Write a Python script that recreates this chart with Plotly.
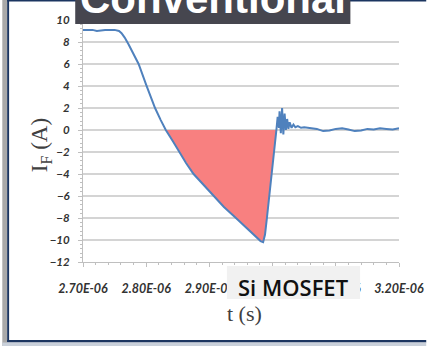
import numpy as np
import plotly.graph_objects as go

# Reverse-recovery current of the diode, time in microseconds, current in amperes
t_us = [2.700, 2.715, 2.722, 2.728, 2.735, 2.750, 2.757, 2.761, 2.766, 2.772,
        2.780, 2.788, 2.800, 2.814, 2.823, 2.831, 2.842, 2.852, 2.863, 2.875,
        2.891, 2.906, 2.923, 2.942, 2.960, 2.975, 2.981, 2.985, 2.988, 2.991,
        2.995, 2.998, 3.002, 3.006, 3.008, 3.010, 3.011, 3.013, 3.015, 3.017,
        3.019, 3.021, 3.023, 3.025, 3.027, 3.030, 3.033, 3.036, 3.040, 3.045,
        3.050, 3.060, 3.070, 3.080, 3.090, 3.100, 3.110, 3.120, 3.130, 3.140,
        3.150, 3.160, 3.170, 3.180, 3.190, 3.200]
i_f = [9.1, 9.1, 9.0, 9.05, 9.1, 9.1, 9.0, 8.8, 8.4, 7.8,
       6.9, 6.0, 4.1, 2.0, 0.9, 0.0, -1.0, -2.0, -3.0, -4.0,
       -5.0, -6.0, -7.0, -8.0, -9.0, -9.8, -10.1, -10.2, -9.5, -8.0,
       -6.0, -4.0, -2.0, 0.0, 1.2, 0.2, 1.7, -0.3, 2.0, -0.4,
       1.5, 0.0, 1.0, 0.1, 0.7, 0.2, 0.5, 0.25, 0.35, 0.2,
       0.25, 0.2, 0.1, -0.1, -0.05, 0.1, 0.15, 0.05, -0.1, -0.05,
       0.1, 0.05, 0.15, 0.1, 0.05, 0.15]

# Reverse-recovery charge window (current below zero)
qrr_start_us = 2.831
qrr_end_us = 3.006

x_tick_vals = [2.70e-6, 2.80e-6, 2.90e-6, 3.00e-6, 3.10e-6, 3.20e-6]
x_tick_text = ["2.70E-06", "2.80E-06", "2.90E-06", "3.00E-06", "3.10E-06", "3.20E-06"]
y_tick_vals = [-12, -10, -8, -6, -4, -2, 0, 2, 4, 6, 8, 10]

t = np.array(t_us) * 1e-6
i = np.array(i_f)
mask = (np.array(t_us) >= qrr_start_us) & (np.array(t_us) <= qrr_end_us)

W_FIG, H_FIG = 436, 346
L, R, T, B = 83, 28, 20, 84
PW = W_FIG - L - R
PH = H_FIG - T - B


def px_x(p):
    return (p - L) / PW


def px_y(p):
    return (H_FIG - B - p) / PH


fig = go.Figure()

fig.add_trace(go.Scatter(
    x=t[mask], y=i[mask], mode="lines", fill="tozeroy",
    fillcolor="rgba(248,128,128,1)", line=dict(width=0, color="rgba(0,0,0,0)"),
    hoverinfo="skip", showlegend=False,
))
fig.add_trace(go.Scatter(
    x=t, y=i, mode="lines", line=dict(color="#4f81bd", width=2),
    showlegend=False,
))

x_tick_font = dict(family="Lato", size=12.5, color="#333333", weight="bold", style="italic")
y_tick_font = dict(family="Lato", size=11.5, color="#333333", weight="bold", style="italic")

fig.update_xaxes(
    range=[2.70e-6, 3.20e-6], tickvals=x_tick_vals, ticktext=x_tick_text,
    showgrid=False, zeroline=False, showline=True, linecolor="#bfbfbf", linewidth=1,
    ticks="outside", ticklen=4, tickcolor="#bfbfbf", tickfont=x_tick_font,
    ticklabelstandoff=11,
    minor=dict(dtick=0.02e-6, tick0=2.70e-6, ticks="outside", ticklen=2, tickcolor="#bfbfbf"),
)
fig.update_yaxes(
    range=[-12, 10], tickvals=y_tick_vals,
    showgrid=True, gridcolor="#d4d4d4", gridwidth=1.6, zeroline=False,
    showline=True, linecolor="#bfbfbf", linewidth=1,
    ticks="outside", ticklen=4, tickcolor="#bfbfbf", tickfont=y_tick_font,
    ticklabelstandoff=6,
    minor=dict(dtick=0.4, tick0=0, ticks="outside", ticklen=2, tickcolor="#bfbfbf", showgrid=False),
)

shapes = [
    # left grey strip and frame
    dict(type="rect", xref="paper", yref="paper", x0=px_x(0), x1=px_x(5), y0=px_y(346), y1=px_y(0),
         fillcolor="#a9a9a9", line=dict(width=0), layer="above"),
    dict(type="rect", xref="paper", yref="paper", x0=px_x(5), x1=px_x(7), y0=px_y(342), y1=px_y(0),
         fillcolor="#1b3560", line=dict(width=0), layer="above"),
    dict(type="rect", xref="paper", yref="paper", x0=px_x(5), x1=px_x(436), y0=px_y(1.5), y1=px_y(0),
         fillcolor="#1b3560", line=dict(width=0), layer="above"),
    dict(type="rect", xref="paper", yref="paper", x0=px_x(5), x1=px_x(436), y0=px_y(342.5), y1=px_y(340),
         fillcolor="#1b3560", line=dict(width=0), layer="above"),
    dict(type="rect", xref="paper", yref="paper", x0=px_x(0), x1=px_x(436), y0=px_y(346), y1=px_y(342.5),
         fillcolor="#c9d0da", line=dict(width=0), layer="above"),
    # heading box
    dict(type="rect", xref="paper", yref="paper", x0=px_x(75), x1=px_x(358), y0=px_y(24), y1=px_y(0),
         fillcolor="#46464f", line=dict(width=0), layer="above"),
    # device label box
    dict(type="rect", xref="paper", yref="paper", x0=px_x(231), x1=px_x(368), y0=px_y(299), y1=px_y(266),
         fillcolor="#f1f1f1", line=dict(width=0), layer="above"),
]

annotations = [
    dict(text="<b>Conventional</b>", xref="paper", yref="paper", x=px_x(217), y=px_y(24),
         xanchor="center", yanchor="bottom", showarrow=False,
         font=dict(family="Liberation Sans", size=42, color="white")),
    dict(text="Si MOSFET", xref="paper", yref="paper", x=px_x(299), y=px_y(287),
         xanchor="center", yanchor="middle", showarrow=False,
         font=dict(family="Open Sans", size=22, color="#111111", weight=600)),
    dict(text="t (s)", xref="paper", yref="paper", x=px_x(249), y=px_y(313),
         xanchor="center", yanchor="middle", showarrow=False,
         font=dict(family="Liberation Serif", size=22, color="#404040")),
    dict(text="I<sub>F</sub> (A)", xref="paper", yref="paper", x=px_x(40), y=px_y(145),
         xanchor="center", yanchor="middle", showarrow=False, textangle=-90,
         font=dict(family="Liberation Serif", size=23, color="#404040")),
]

fig.update_layout(
    width=W_FIG, height=H_FIG,
    margin=dict(l=L, r=R, t=T, b=B),
    paper_bgcolor="white", plot_bgcolor="white",
    shapes=shapes, annotations=annotations,
)

fig.write_html("out.html")
